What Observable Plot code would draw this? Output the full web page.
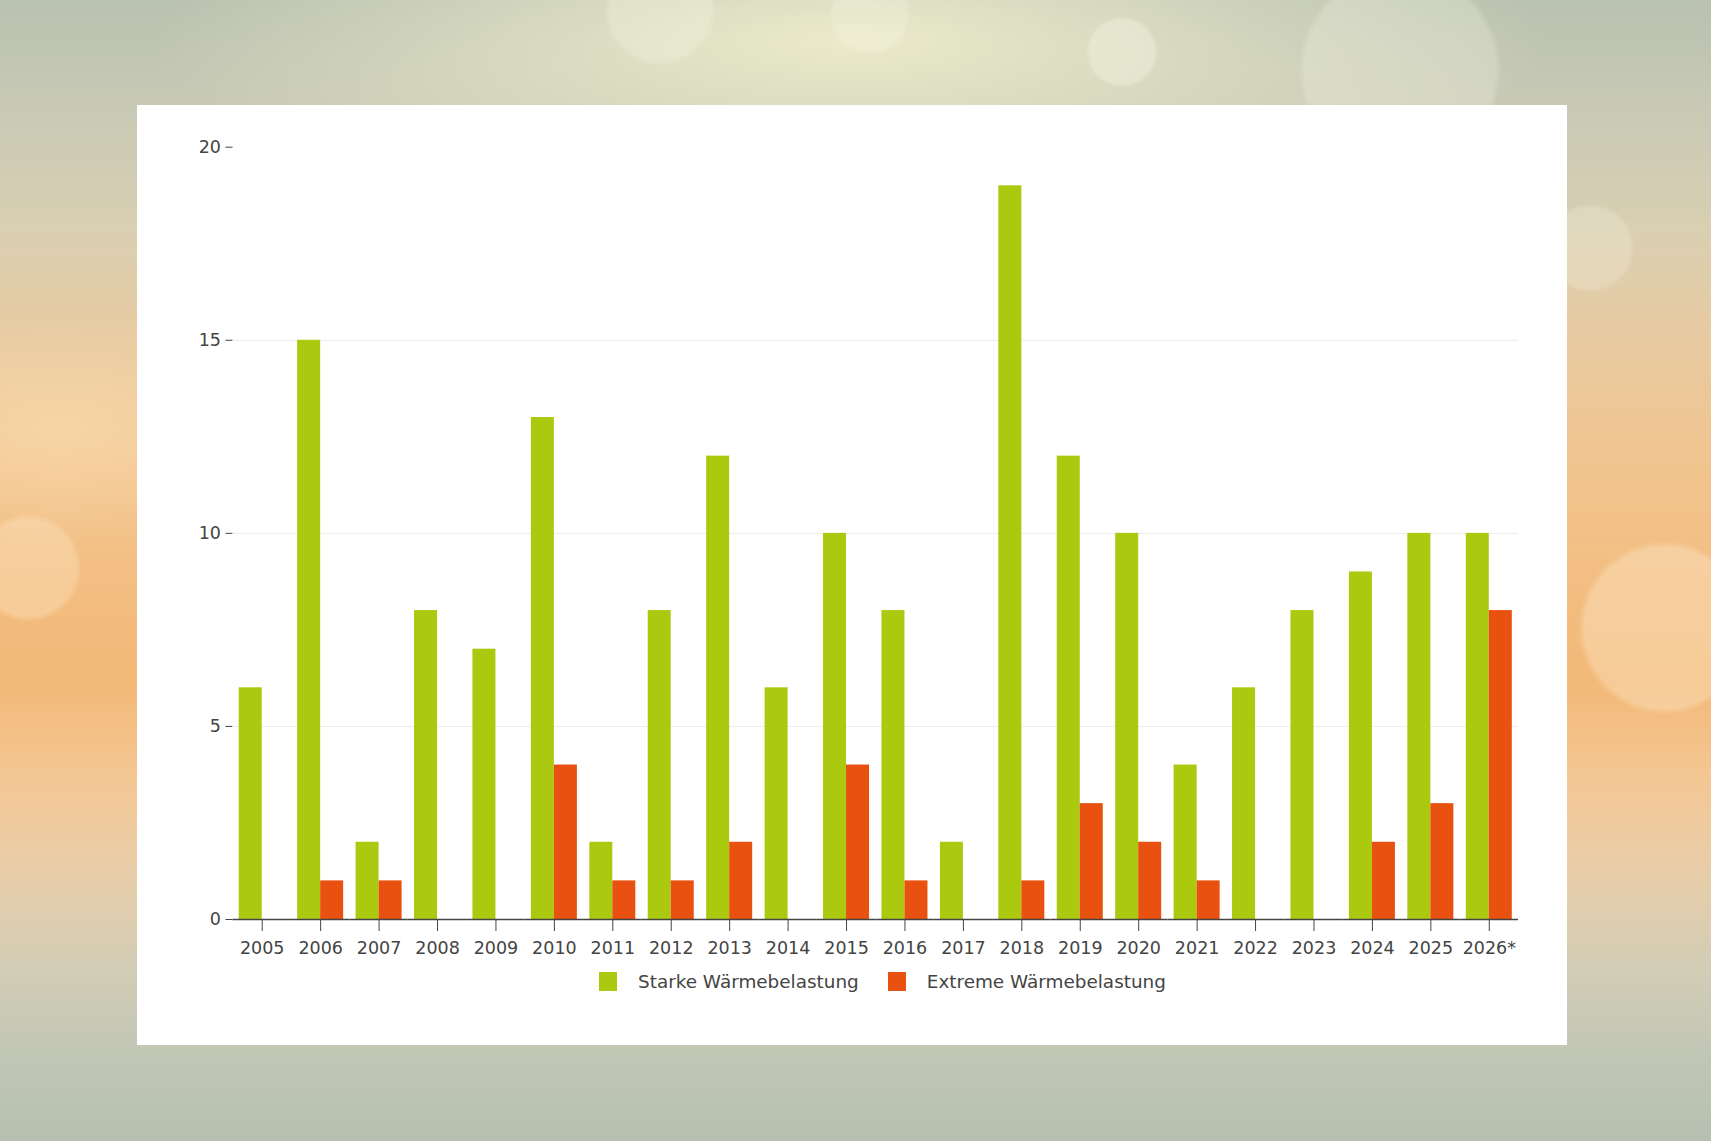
<!DOCTYPE html>
<html>
<head>
<meta charset="utf-8">
<script src="https://cdn.jsdelivr.net/npm/d3@7"></script>
<script src="https://cdn.jsdelivr.net/npm/@observablehq/plot@0.6"></script>
<style>
  html, body { margin: 0; padding: 0; }
  body {
    width: 1711px; height: 1141px; overflow: hidden; position: relative;
    font-family: "DejaVu Sans", Verdana, sans-serif;
    background:
      radial-gradient(circle at 1122px 52px, rgba(255,255,240,0.3) 0, rgba(255,255,240,0.3) 32px, rgba(255,255,240,0) 36px),
      radial-gradient(circle at 1400px 70px, rgba(255,255,240,0.22) 0, rgba(255,255,240,0.22) 95px, rgba(255,255,240,0) 102px),
      radial-gradient(circle at 660px 10px, rgba(255,255,240,0.22) 0, rgba(255,255,240,0.22) 50px, rgba(255,255,240,0) 56px),
      radial-gradient(circle at 870px 15px, rgba(255,255,240,0.2) 0, rgba(255,255,240,0.2) 36px, rgba(255,255,240,0) 41px),
      radial-gradient(circle at 28px 568px, rgba(255,240,210,0.3) 0, rgba(255,240,210,0.3) 48px, rgba(255,240,210,0) 54px),
      radial-gradient(circle at 1665px 628px, rgba(255,245,225,0.3) 0, rgba(255,245,225,0.3) 80px, rgba(255,245,225,0) 87px),
      radial-gradient(circle at 1590px 248px, rgba(255,255,240,0.2) 0, rgba(255,255,240,0.2) 40px, rgba(255,255,240,0) 45px),
      radial-gradient(ellipse 700px 170px at 850px 40px, rgba(240,238,205,0.9), rgba(240,238,205,0)),
      radial-gradient(ellipse 260px 120px at 60px 430px, rgba(255,228,185,0.5), rgba(255,228,185,0)),
      linear-gradient(to bottom, #b9c1b0 0%, #c9cab5 10%, #d9cfb2 20%, #e8caa0 30%, #f1c590 40%, #f3bd80 52%, #f2b977 60%, #f4c793 68%, #e9cda8 76%, #d2cdb6 85%, #c0c6b5 93%, #b6c0b0 100%);
  }
  #panel {
    position: absolute; left: 137px; top: 105px; width: 1430px; height: 940px;
    background: #ffffff;
  }
  #legend {
    position: absolute; left: 462px; top: 866px; height: 20px;
    display: flex; align-items: center; white-space: nowrap;
    font-family: "DejaVu Sans", sans-serif; font-size: 18.4px; color: #444;
  }
  .sw { display: inline-block; width: 18px; height: 19px; margin-right: 21px; }
  .item { display: flex; align-items: center; margin-right: 29px; }
</style>
</head>
<body>
<div id="panel"><div id="chart"></div><div id="legend"></div></div>
<script>
const years = ["2005","2006","2007","2008","2009","2010","2011","2012","2013","2014","2015","2016","2017","2018","2019","2020","2021","2022","2023","2024","2025","2026*"];
const starke  = [6, 15, 2, 8, 7, 13, 2, 8, 12, 6, 10, 8, 2, 19, 12, 10, 4, 6, 8, 9, 10, 10];
const extreme = [0, 1, 1, 0, 0, 4, 1, 1, 2, 0, 4, 1, 0, 1, 3, 2, 1, 0, 0, 2, 3, 8];
const seriesNames = ["Starke Wärmebelastung", "Extreme Wärmebelastung"];
const seriesColors = ["#abc90f", "#e8510f"];
const yTicks = [0, 5, 10, 15, 20];
const gridValues = [5, 10, 15];

const data = years.flatMap((yr, i) => [
  {year: yr, series: seriesNames[0], value: starke[i]},
  {year: yr, series: seriesNames[1], value: extreme[i]}
]);

const chart = Plot.plot({
  width: 1430,
  height: 860,
  marginLeft: 95.5,
  marginRight: 49,
  marginTop: 41.7,
  marginBottom: 46,
  style: {fontFamily: "DejaVu Sans, sans-serif", fontSize: "17.5px", color: "#444", background: "white", overflow: "visible"},
  fx: {domain: years, padding: 0, round: false, label: null, tickSize: 12, tickPadding: 10},
  x: {domain: seriesNames, paddingInner: 0, paddingOuter: 0.27, round: false, axis: null},
  y: {domain: [0, 20], ticks: yTicks, tickSize: 7, tickPadding: 5, label: null},
  color: {domain: seriesNames, range: seriesColors},
  marks: [
    Plot.ruleY(gridValues, {stroke: "#ececec", strokeWidth: 1}),
    Plot.barY(data, {fx: "year", x: "series", y: "value", fill: "series"}),
    Plot.ruleY([0], {stroke: "#444", strokeWidth: 1.5})
  ]
});
document.getElementById("chart").appendChild(chart);

const legend = document.getElementById("legend");
seriesNames.forEach((name, i) => {
  const item = document.createElement("div");
  item.className = "item";
  const sw = document.createElement("span");
  sw.className = "sw";
  sw.style.background = seriesColors[i];
  const label = document.createElement("span");
  label.textContent = name;
  item.appendChild(sw);
  item.appendChild(label);
  legend.appendChild(item);
});
</script>
</body>
</html>
